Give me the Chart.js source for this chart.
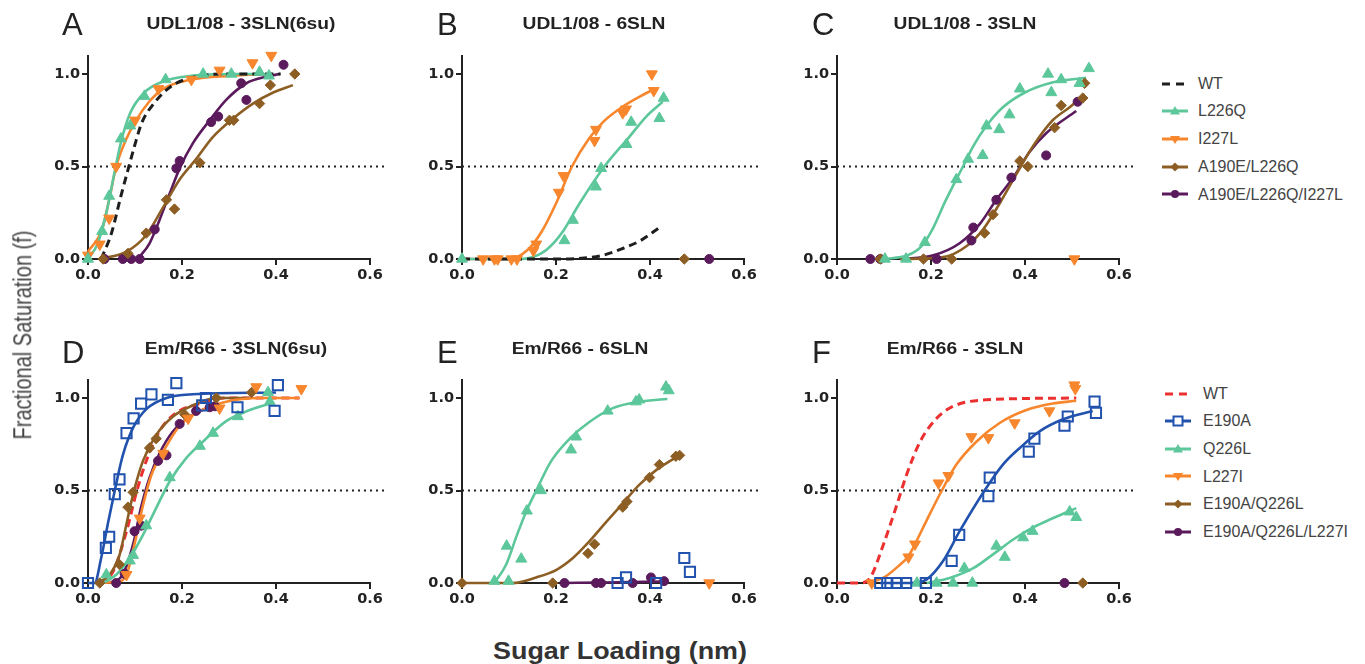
<!DOCTYPE html>
<html><head><meta charset="utf-8">
<script src="https://cdn.jsdelivr.net/npm/chart.js@4.4.1/dist/chart.umd.min.js"></script>
<style>
html,body{margin:0;padding:0;background:#fff;}
body{width:1365px;height:664px;position:relative;overflow:hidden;font-family:'Liberation Sans',Arial,sans-serif;}
canvas{position:absolute;}
.t{position:absolute;white-space:nowrap;line-height:1;}
.lg{position:absolute;white-space:nowrap;line-height:1;font-size:16px;color:#444;}
svg{position:absolute;}
</style></head><body>
<script>
// ---------- tick labels, titles, series names ----------
const xTicks = [0, 0.2, 0.4, 0.6];
const yTicks = [0, 0.5, 1.0];
const panelLetters = ['A','B','C','D','E','F'];
const panelTitles = ['UDL1/08 - 3SLN(6su)','UDL1/08 - 6SLN','UDL1/08 - 3SLN','Em/R66 - 3SLN(6su)','Em/R66 - 6SLN','Em/R66 - 3SLN'];
const topSeries = ['WT','L226Q','I227L','A190E/L226Q','A190E/L226Q/I227L'];
const bottomSeries = ['WT','E190A','Q226L','L227I','E190A/Q226L','E190A/Q226L/L227I'];
const halfLine = [[0,0.5],[0.63,0.5]];

// ---------- Panel A : UDL1/08 - 3SLN(6su) ----------
const A_WT_fit = [[0.028,0],[0.05,0.14],[0.07,0.34],[0.087,0.5],[0.1,0.62],[0.115,0.74],[0.14,0.84],[0.175,0.93],[0.22,0.98],[0.3,1.0],[0.41,1.0]];
const A_L226Q_pts = [[0,0],[0.03,0.15],[0.045,0.34],[0.07,0.65],[0.09,0.72],[0.12,0.88],[0.165,0.97],[0.245,1.0],[0.305,1.0],[0.365,1.01],[0.385,0.99]];
const A_L226Q_fit = [[0,0],[0.02,0.08],[0.04,0.26],[0.055,0.45],[0.07,0.63],[0.09,0.79],[0.12,0.9],[0.16,0.96],[0.22,0.99],[0.3,1.0],[0.39,1.0]];
const A_I227L_pts = [[0,0.02],[0.025,0.08],[0.045,0.22],[0.06,0.5],[0.1,0.75],[0.15,0.92],[0.22,0.97],[0.28,1.02],[0.35,1.06],[0.39,1.1]];
const A_I227L_fit = [[0,0.04],[0.03,0.16],[0.045,0.32],[0.06,0.5],[0.08,0.64],[0.1,0.74],[0.13,0.85],[0.16,0.92],[0.22,0.97],[0.3,0.99],[0.39,1.0]];
const A_A190E_pts = [[0.032,0],[0.085,0.03],[0.124,0.14],[0.167,0.32],[0.184,0.27],[0.238,0.52],[0.301,0.75],[0.31,0.75],[0.365,0.84],[0.388,0.94],[0.44,1.0]];
const A_A190E_fit = [[0.025,0],[0.082,0.04],[0.124,0.13],[0.16,0.28],[0.195,0.43],[0.23,0.54],[0.266,0.66],[0.309,0.76],[0.351,0.84],[0.394,0.9],[0.436,0.94]];
const A_Triple_pts = [[0.035,0],[0.074,0],[0.092,0],[0.11,0],[0.142,0.16],[0.188,0.49],[0.195,0.53],[0.262,0.74],[0.277,0.77],[0.326,0.95],[0.337,0.86],[0.416,1.05]];
const A_Triple_fit = [[0.106,0],[0.131,0.085],[0.152,0.21],[0.174,0.355],[0.195,0.49],[0.223,0.625],[0.259,0.75],[0.294,0.86],[0.337,0.95],[0.379,0.985],[0.408,1.0]];

// ---------- Panel B : UDL1/08 - 6SLN ----------
const B_WT_fit = [[0,0],[0.2,0],[0.26,0.005],[0.3,0.02],[0.34,0.055],[0.38,0.1],[0.42,0.17]];
const B_L226Q_pts = [[0,0],[0.218,0.1],[0.236,0.21],[0.285,0.39],[0.296,0.49],[0.35,0.62],[0.36,0.74],[0.42,0.76],[0.429,0.87]];
const B_L226Q_fit = [[0,0],[0.12,0],[0.15,0.01],[0.18,0.05],[0.215,0.15],[0.25,0.3],[0.303,0.5],[0.356,0.66],[0.392,0.77],[0.427,0.85]];
const B_I227L_pts = [[0.045,0],[0.069,0],[0.076,0],[0.105,0],[0.117,0],[0.152,0.045],[0.158,0.08],[0.206,0.36],[0.216,0.45],[0.282,0.64],[0.285,0.7],[0.342,0.79],[0.349,0.81],[0.404,1.0],[0.408,0.91]];
const B_I227L_fit = [[0,0],[0.1,0],[0.14,0.05],[0.17,0.15],[0.2,0.3],[0.234,0.5],[0.27,0.65],[0.3,0.74],[0.34,0.82],[0.38,0.88],[0.41,0.92]];
const B_A190E_pts = [[0.473,0]];
const B_Triple_pts = [[0.526,0]];

// ---------- Panel C : UDL1/08 - 3SLN ----------
const C_L226Q_pts = [[0.102,0],[0.147,0],[0.187,0.09],[0.254,0.43],[0.279,0.54],[0.31,0.56],[0.318,0.72],[0.345,0.7],[0.367,0.78],[0.389,0.92],[0.449,1.0],[0.456,0.9],[0.477,0.97],[0.516,0.95],[0.536,1.03]];
const C_L226Q_fit = [[0.1,0],[0.15,0.02],[0.18,0.07],[0.205,0.17],[0.23,0.31],[0.268,0.5],[0.29,0.61],[0.318,0.72],[0.353,0.82],[0.4,0.9],[0.46,0.955],[0.53,0.98]];
const C_Triple_pts = [[0.071,0],[0.092,0],[0.212,0],[0.286,0.1],[0.29,0.17],[0.339,0.32],[0.371,0.44],[0.445,0.56],[0.512,0.85]];
const C_Triple_fit = [[0.134,0],[0.205,0.02],[0.261,0.085],[0.304,0.19],[0.339,0.32],[0.375,0.44],[0.41,0.58],[0.445,0.68],[0.509,0.8]];
const C_A190E_pts = [[0.092,0],[0.184,0],[0.244,0],[0.314,0.14],[0.332,0.24],[0.389,0.53],[0.406,0.5],[0.463,0.71],[0.477,0.83],[0.523,0.87],[0.527,0.95]];
const C_A190E_fit = [[0.134,0],[0.226,0.01],[0.276,0.07],[0.311,0.16],[0.346,0.3],[0.382,0.46],[0.417,0.61],[0.459,0.75],[0.495,0.82],[0.527,0.89]];
const C_I227L_pts = [[0.505,0]];

// ---------- Panel D : Em/R66 - 3SLN(6su) ----------
const D_WT_fit = [[0.025,0],[0.053,0.06],[0.082,0.28],[0.103,0.49],[0.124,0.66],[0.152,0.82],[0.188,0.92],[0.238,0.97],[0.294,1.0],[0.45,1.0]];
const D_E190A_pts = [[0,0],[0.038,0.19],[0.045,0.25],[0.057,0.48],[0.067,0.56],[0.082,0.81],[0.097,0.89],[0.113,0.97],[0.135,1.02],[0.17,0.99],[0.188,1.08],[0.243,0.96],[0.251,1.0],[0.318,0.95],[0.397,0.93],[0.404,1.07]];
const D_E190A_fit = [[0,0],[0.014,0],[0.028,0.135],[0.043,0.33],[0.057,0.5],[0.074,0.69],[0.096,0.84],[0.124,0.94],[0.167,1.0],[0.223,1.02],[0.4,1.03]];
const D_Q226L_pts = [[0.039,0.045],[0.089,0.12],[0.096,0.15],[0.124,0.31],[0.174,0.57],[0.238,0.74],[0.266,0.81],[0.319,0.9],[0.383,1.03],[0.387,0.98]];
const D_Q226L_fit = [[0.032,0],[0.06,0.045],[0.089,0.135],[0.117,0.26],[0.145,0.405],[0.174,0.55],[0.209,0.675],[0.245,0.765],[0.294,0.875],[0.344,0.935],[0.394,0.975]];
const D_L227I_pts = [[0.082,0.045],[0.11,0.35],[0.16,0.7],[0.213,0.89],[0.28,0.945],[0.358,1.06],[0.454,1.05]];
const D_L227I_fit = [[0.02,0],[0.06,0.005],[0.082,0.045],[0.099,0.21],[0.117,0.42],[0.135,0.585],[0.16,0.71],[0.195,0.85],[0.238,0.93],[0.294,0.98],[0.365,1.0],[0.45,1.0]];
const D_A190E_pts = [[0.025,0],[0.067,0.1],[0.085,0.41],[0.096,0.49],[0.131,0.73],[0.145,0.78],[0.206,0.91],[0.273,1.0],[0.348,1.03]];
const D_A190E_fit = [[0.021,0],[0.046,0.045],[0.067,0.15],[0.082,0.32],[0.096,0.48],[0.117,0.66],[0.145,0.8],[0.181,0.9],[0.223,0.96],[0.273,1.0],[0.344,1.0]];
const D_Triple_pts = [[0.06,0],[0.078,0.05],[0.099,0.28],[0.113,0.31],[0.149,0.66],[0.167,0.69],[0.195,0.86],[0.23,0.93],[0.259,0.95],[0.27,0.955]];
const D_Triple_fit = [[0.046,0],[0.074,0.045],[0.096,0.21],[0.113,0.41],[0.131,0.57],[0.152,0.7],[0.181,0.82],[0.223,0.91],[0.266,0.955]];

// ---------- Panel E : Em/R66 - 6SLN ----------
const E_Q226L_pts = [[0.069,0.01],[0.095,0.2],[0.099,0.01],[0.126,0.13],[0.138,0.39],[0.168,0.5],[0.232,0.72],[0.243,0.79],[0.31,0.93],[0.37,0.98],[0.377,0.99],[0.434,1.06],[0.44,1.04]];
const E_Q226L_fit = [[0.069,0],[0.094,0.1],[0.117,0.26],[0.139,0.4],[0.158,0.5],[0.19,0.66],[0.229,0.78],[0.271,0.87],[0.321,0.945],[0.377,0.98],[0.437,0.995]];
const E_A190E_pts = [[0,0],[0.193,0],[0.268,0.16],[0.282,0.21],[0.342,0.41],[0.351,0.44],[0.399,0.57],[0.42,0.64],[0.455,0.685],[0.463,0.69]];
const E_A190E_fit = [[0,0],[0.108,0],[0.158,0.03],[0.2,0.07],[0.236,0.135],[0.271,0.225],[0.307,0.33],[0.342,0.43],[0.377,0.53],[0.413,0.61],[0.462,0.69]];
const E_Triple_pts = [[0.218,0],[0.285,0],[0.296,0],[0.363,0],[0.402,0.03],[0.43,0.01]];
const E_Triple_fit = [[0.218,0],[0.3,0.003],[0.43,0.008]];
const E_E190A_pts = [[0.331,0],[0.349,0.03],[0.413,0],[0.473,0.135],[0.485,0.06]];
const E_L227I_pts = [[0.526,0]];

// ---------- Panel F : Em/R66 - 3SLN ----------
const F_WT_fit = [[0,0],[0.049,0],[0.071,0.03],[0.099,0.21],[0.127,0.42],[0.148,0.585],[0.177,0.765],[0.212,0.89],[0.247,0.955],[0.318,0.99],[0.509,1.0]];
const F_L227I_pts = [[0.074,0],[0.152,0.14],[0.166,0.21],[0.216,0.54],[0.237,0.58],[0.286,0.79],[0.322,0.785],[0.378,0.865],[0.452,0.93],[0.505,1.07],[0.507,1.05]];
const F_L227I_fit = [[0.064,0],[0.1,0.03],[0.13,0.09],[0.152,0.145],[0.166,0.21],[0.191,0.34],[0.223,0.5],[0.254,0.64],[0.297,0.765],[0.346,0.865],[0.403,0.935],[0.459,0.97],[0.509,0.985]];
const F_E190A_pts = [[0.092,0],[0.107,0],[0.127,0],[0.147,0],[0.189,0],[0.244,0.12],[0.26,0.26],[0.322,0.47],[0.325,0.57],[0.408,0.71],[0.42,0.78],[0.484,0.85],[0.491,0.9],[0.548,0.98],[0.551,0.92]];
const F_E190A_fit = [[0.092,0],[0.155,0],[0.191,0.02],[0.226,0.12],[0.261,0.28],[0.314,0.5],[0.353,0.64],[0.389,0.73],[0.431,0.82],[0.481,0.885],[0.544,0.93]];
const F_Q226L_pts = [[0.17,0],[0.212,0],[0.247,0],[0.288,0],[0.271,0.08],[0.339,0.2],[0.357,0.14],[0.396,0.245],[0.416,0.28],[0.495,0.385],[0.509,0.355]];
const F_Q226L_fit = [[0.191,0],[0.24,0.027],[0.29,0.08],[0.332,0.155],[0.375,0.235],[0.417,0.3],[0.459,0.35],[0.509,0.405]];
const F_Triple_pts = [[0.484,0]];
const F_A190E_pts = [[0.523,0]];

// ---------- styles (kept apart from the data) ----------
const STY = {
  wtK:   {c:'#1e1e1e', dash:[8,5]},
  wtR:   {c:'#ec3030', dash:[8,5]},
  green: {c:'#5cc79a', ps:'triangle', r:6.3, rot:0},
  orange:{c:'#f7862d', ps:'triangle', r:6.3, rot:180},
  brown: {c:'#8d5e24', ps:'rectRot',  r:5.2, rot:0},
  purple:{c:'#5a1a5c', ps:'circle',   r:4.5, rot:0},
  blue:  {c:'#2152ad', ps:'rect',     r:7.2, rot:0, open:true}
};
const colLeft = [88, 462, 837];
const rowBase = [259, 583];

const panels = [
  {col:0,row:0,
   pts:[['green',A_L226Q_pts],['orange',A_I227L_pts],['brown',A_A190E_pts],['purple',A_Triple_pts]],
   fits:[['wtK',A_WT_fit],['green',A_L226Q_fit],['orange',A_I227L_fit],['brown',A_A190E_fit],['purple',A_Triple_fit]]},
  {col:1,row:0,
   pts:[['green',B_L226Q_pts],['orange',B_I227L_pts],['brown',B_A190E_pts],['purple',B_Triple_pts]],
   fits:[['wtK',B_WT_fit],['green',B_L226Q_fit],['orange',B_I227L_fit]]},
  {col:2,row:0,
   pts:[['green',C_L226Q_pts],['orange',C_I227L_pts],['brown',C_A190E_pts],['purple',C_Triple_pts]],
   fits:[['green',C_L226Q_fit],['brown',C_A190E_fit],['purple',C_Triple_fit]]},
  {col:0,row:1,
   pts:[['blue',D_E190A_pts],['green',D_Q226L_pts],['orange',D_L227I_pts],['brown',D_A190E_pts],['purple',D_Triple_pts]],
   fits:[['blue',D_E190A_fit],['green',D_Q226L_fit],['orange',D_L227I_fit],['purple',D_Triple_fit],['brown',D_A190E_fit],['wtR',D_WT_fit]]},
  {col:1,row:1,
   pts:[['blue',E_E190A_pts],['green',E_Q226L_pts],['orange',E_L227I_pts],['brown',E_A190E_pts],['purple',E_Triple_pts]],
   fits:[['green',E_Q226L_fit],['brown',E_A190E_fit],['purple',E_Triple_fit]]},
  {col:2,row:1,
   pts:[['blue',F_E190A_pts],['green',F_Q226L_pts],['orange',F_L227I_pts],['brown',F_A190E_pts],['purple',F_Triple_pts]],
   fits:[['wtR',F_WT_fit],['blue',F_E190A_fit],['green',F_Q226L_fit],['orange',F_L227I_fit]]}
];

const toXY = arr => arr.map(([x,y]) => ({x, y}));

function ptsDataset(key, arr){
  const s = STY[key];
  return {type:'scatter', data: toXY(arr), showLine:false, clip:false,
    pointStyle: s.ps, pointRadius: s.r, pointRotation: s.rot,
    pointBackgroundColor: s.open ? 'rgba(255,255,255,0)' : s.c,
    pointBorderColor: s.c, pointBorderWidth: s.open ? 2 : 1};
}
function fitDataset(key, arr){
  const s = STY[key];
  return {type:'line', data: toXY(arr), showLine:true, clip:false, fill:false,
    borderColor: s.c, borderWidth: s.dash ? 3 : 2.6, borderDash: s.dash || [],
    cubicInterpolationMode:'monotone', pointRadius:0};
}

const PADTOP = 20.5, PADR = 30, YW = 60, XH = 35;
const CW = YW + 282 + PADR, CH = PADTOP + 203.5 + XH;

const tickFont = {family:"'DejaVu Sans', sans-serif", weight:'bold', size:14.5};

panels.forEach((p, i) => {
  const L = colLeft[p.col], B = rowBase[p.row];
  const cv = document.createElement('canvas');
  cv.width = CW; cv.height = CH;
  cv.style.left = (L - YW) + 'px';
  cv.style.top = (B - PADTOP - 203.5) + 'px';
  cv.style.width = CW + 'px'; cv.style.height = CH + 'px';
  document.body.appendChild(cv);

  const datasets = [];
  p.pts.forEach(([k, a]) => datasets.push(ptsDataset(k, a)));
  p.fits.forEach(([k, a]) => datasets.push(fitDataset(k, a)));
  datasets.push({type:'line', data: toXY(halfLine), showLine:true, clip:false, fill:false,
    borderColor:'#222', borderWidth:2, borderDash:[2,4], pointRadius:0});

  const axisCommon = {
    type:'linear',
    grid:{display:true, drawOnChartArea:false, drawTicks:true, tickLength:6, color:'#222', lineWidth:2},
    border:{display:true, color:'#222', width:2},
  };
  new Chart(cv, {
    type:'scatter',
    data:{datasets},
    options:{
      responsive:false, animation:false, events:[],
      layout:{padding:{top:PADTOP, right:PADR, left:0, bottom:0}},
      plugins:{legend:{display:false}, tooltip:{enabled:false}},
      scales:{
        x: Object.assign({}, axisCommon, {min:0, max:0.6,
          afterBuildTicks: s => { s.ticks = xTicks.map(v => ({value:v})); },
          afterFit: s => { s.height = XH; },
          ticks:{callback: v => Number(v).toFixed(1), font:tickFont, color:'#222', padding:2, maxRotation:0, autoSkip:false}}),
        y: Object.assign({}, axisCommon, {min:0, max:1.1,
          afterBuildTicks: s => { s.ticks = yTicks.map(v => ({value:v})); },
          afterFit: s => { s.width = YW; },
          ticks:{callback: v => Number(v).toFixed(1), font:tickFont, color:'#222', padding:2, autoSkip:false}})
      }
    }
  });

  // panel letter
  const lt = document.createElement('div');
  lt.className = 't';
  lt.textContent = panelLetters[i];
  lt.style.cssText += `left:${[62,437,812][p.col]}px;top:${p.row ? 337 : 9}px;font-size:31px;color:#222;`;
  document.body.appendChild(lt);
  // panel title
  const tt = document.createElement('div');
  tt.className = 't';
  tt.textContent = panelTitles[i];
  const cx = [[241,594,965],[236,580,955]][p.row][p.col];
  tt.style.cssText += `left:${cx}px;top:${p.row ? 340.5 : 15.5}px;font-size:16px;font-weight:bold;color:#222;transform:translateX(-50%) scaleX(1.2);`;
  document.body.appendChild(tt);
});

// axis titles
const yt = document.createElement('div');
yt.className = 't';
yt.textContent = 'Fractional Saturation (f)';
yt.style.cssText += 'left:22px;top:335px;font-size:20px;color:#444;transform:translate(-50%,-50%) scaleX(1.25) rotate(-90deg);';
document.body.appendChild(yt);
const xt = document.createElement('div');
xt.className = 't';
xt.textContent = 'Sugar Loading (nm)';
xt.style.cssText += 'left:620px;top:638.5px;font-size:24px;font-weight:bold;color:#333;transform:translateX(-50%) scaleX(1.12);';
document.body.appendChild(xt);

// legends
function symbolSVG(key){
  const s = STY[key];
  let m = '';
  if (s.dash) {
    return `<svg width="26" height="14"><line x1="0" y1="7" x2="26" y2="7" stroke="${s.c}" stroke-width="3" stroke-dasharray="8,6"/></svg>`;
  }
  if (s.ps === 'triangle') {
    m = s.rot ? `<polygon points="13,12 8,4 18,4" fill="${s.c}"/>` : `<polygon points="13,2 8,10.5 18,10.5" fill="${s.c}"/>`;
  } else if (s.ps === 'rectRot') {
    m = `<polygon points="13,2.5 17.5,7 13,11.5 8.5,7" fill="${s.c}"/>`;
  } else if (s.ps === 'circle') {
    m = `<circle cx="13" cy="7" r="4" fill="${s.c}"/>`;
  } else if (s.ps === 'rect') {
    m = `<rect x="8.5" y="2.5" width="9" height="9" fill="#fff" stroke="${s.c}" stroke-width="2"/>`;
  }
  return `<svg width="26" height="14"><line x1="0" y1="7" x2="26" y2="7" stroke="${s.c}" stroke-width="3"/>${m}</svg>`;
}
const topKeys = ['wtK','green','orange','brown','purple'];
const botKeys = ['wtR','blue','green','orange','brown','purple'];
function addLegend(names, keys, x0, tx, y0, dy){
  names.forEach((n, i) => {
    const y = y0 + i*dy;
    const holder = document.createElement('div');
    holder.style.cssText = `position:absolute;left:${x0}px;top:${y-7}px;width:26px;height:14px;`;
    holder.innerHTML = symbolSVG(keys[i]);
    document.body.appendChild(holder);
    const t = document.createElement('div');
    t.className = 'lg';
    t.textContent = n;
    t.style.left = tx + 'px';
    t.style.top = (y - 7.8) + 'px';
    document.body.appendChild(t);
  });
}
addLegend(topSeries, topKeys, 1162, 1198, 83.5, 27.7);
addLegend(bottomSeries, botKeys, 1165, 1203, 393.5, 27.6);
</script>
</body></html>
